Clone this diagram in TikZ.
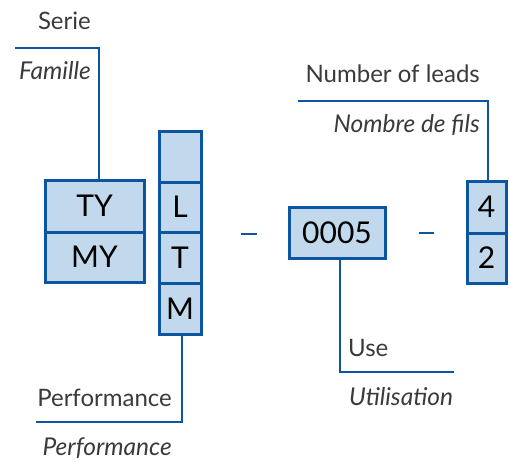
\documentclass[tikz,border=0pt]{standalone}
\usepackage{fontspec}
\setmainfont{Lato}
\definecolor{boxfill}{HTML}{C2D8EC}
\definecolor{boxline}{HTML}{0C55A1}
\definecolor{labeltext}{HTML}{3A3A3A}
\tikzset{
  codebox/.style={draw=boxline, fill=boxfill, line width=3pt, inner sep=0pt,
    font=\fontsize{30}{32}\selectfont, text=black},
  leader/.style={draw=boxline, line width=2.3pt},
  lbl/.style={inner sep=0pt, text=labeltext, font=\fontsize{24}{26}\selectfont},
  lbli/.style={lbl, font=\fontsize{24.5}{26}\selectfont\itshape},
}
\begin{document}
\begin{tikzpicture}[x=1pt,y=-1pt]
\useasboundingbox (0,0) rectangle (509,461);
% boxes
\node[codebox, minimum width=99pt, minimum height=52pt] (ty) at (94.5,206) {TY};
\node[codebox, minimum width=99pt, minimum height=50pt] (my) at (94.5,257) {MY};
\node[codebox, minimum width=42pt, minimum height=51pt] (blank) at (180,156.5) {};
\node[codebox, minimum width=42pt, minimum height=50pt] (l) at (180,207) {L};
\node[codebox, minimum width=42pt, minimum height=51pt] (t) at (180,257.5) {T};
\node[codebox, minimum width=42pt, minimum height=51pt] (m) at (180,308.5) {M};
\node[codebox, minimum width=96pt, minimum height=51pt] (use) at (337,232.5) {0005};
\node[codebox, minimum width=39pt, minimum height=52pt] (four) at (486.5,207) {4};
\node[codebox, minimum width=39pt, minimum height=50pt] (two) at (486.5,258) {2};
% dashes
\coordinate (d1a) at (241,234); \coordinate (d1b) at (257,234);
\coordinate (d2a) at (419,233); \coordinate (d2b) at (434,233);
\draw[leader] (d1a) -- (d1b);
\draw[leader] (d2a) -- (d2b);
% leader lines
\coordinate (serieend) at (15,48);
\coordinate (perfend) at (36,422);
\coordinate (useend) at (454,372);
\coordinate (leadsend) at (298,101);
\draw[leader] ([xshift=4.5pt]ty.north) |- (serieend);
\draw[leader] ([xshift=2pt]m.south) |- (perfend);
\draw[leader] ([xshift=3pt]use.south) |- (useend);
\draw[leader] ([xshift=1.5pt]four.north) |- (leadsend);
% labels
\node[lbl, anchor=base east] (serie) at (91,29) {Serie};
\node[lbli, anchor=base east] (famille) at (91,79) {Famille};
\node[lbl, anchor=base east] (leads) at (480,82) {Number of leads};
\node[lbli, anchor=base east] (fils) at (480,132) {Nombre de fils};
\node[lbl, anchor=base east] (perf) at (172,406) {Performance};
\node[lbli, anchor=base east] (perfi) at (172,455) {Performance};
\node[lbl, anchor=base west] (uselbl) at (348,356) {Use};
\node[lbli, anchor=base west] (util) at (349,405) {Utilisation};
\end{tikzpicture}
\end{document}
